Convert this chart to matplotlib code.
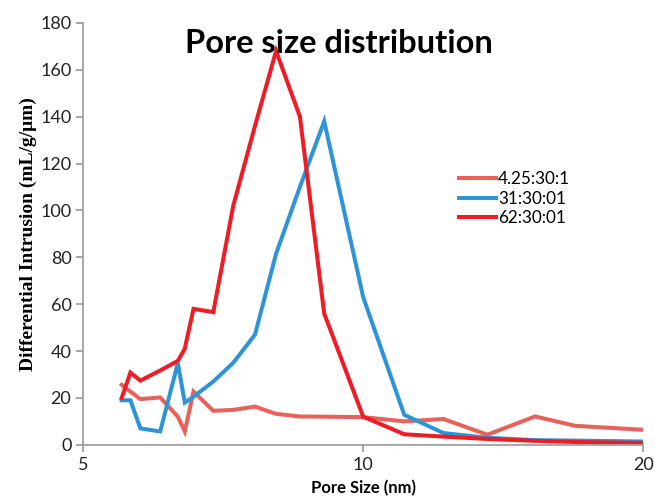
import matplotlib
matplotlib.use("Agg")
import matplotlib.pyplot as plt
from matplotlib.ticker import FixedLocator, NullLocator

pore_size = [5.5, 5.62, 5.76, 6.05, 6.32, 6.43, 6.57, 6.90, 7.25, 7.65,
             8.06, 8.55, 9.08, 10.0, 11.07, 12.2, 13.6, 15.3, 16.9, 20.0]

s_425 = [25.6, 22.7, 19.5, 20.2, 12.0, 5.7, 22.7, 14.5, 14.9, 16.3,
         13.2, 12.1, 12.0, 11.8, 10.0, 11.0, 4.3, 12.1, 8.1, 6.4]
s_31 = [19.0, 19.0, 7.0, 5.7, 34.8, 18.0, 20.5, 27.0, 35.0, 47.0,
        81.5, 110.0, 138.0, 63.0, 12.8, 5.0, 3.0, 2.0, 1.8, 1.4]
s_62 = [20.0, 30.8, 27.4, 31.7, 35.8, 41.0, 58.0, 56.6, 102.0, 136.0,
        168.0, 140.0, 56.0, 12.0, 4.5, 3.5, 2.5, 1.7, 1.2, 0.8]

labels = ["4.25:30:1", "31:30:01", "62:30:01"]
colors = ["#e9615b", "#2e94d6", "#ee1c25"]

fig = plt.figure(figsize=(6.55, 4.97), dpi=100)
ax = fig.add_axes([0.127, 0.105, 0.855, 0.849])

for ys, lab, c in zip([s_425, s_31, s_62], labels, colors):
    ax.plot(pore_size, ys, color=c, lw=2.9, label=lab, solid_joinstyle="miter")

ax.set_xscale("log")
ax.set_xlim(5, 20)
ax.set_ylim(0, 180)
ax.xaxis.set_major_locator(FixedLocator([5, 10, 20]))
ax.xaxis.set_minor_locator(NullLocator())
ax.set_xticklabels(["5", "10", "20"])
ax.set_yticks(range(0, 181, 20))

for s in ["top", "right"]:
    ax.spines[s].set_visible(False)
for s in ["left", "bottom"]:
    ax.spines[s].set_color("#a0a0a0")
    ax.spines[s].set_linewidth(1.3)
ax.tick_params(colors="#a0a0a0", labelcolor="#222222", labelsize=13,
               width=1.3, length=5, direction="out")
for t in ax.get_xticklabels() + ax.get_yticklabels():
    t.set_family("Lato")

ax.set_ylabel("Differential Intrusion (mL/g/\u03bcm)", family="Liberation Serif",
              fontweight="bold", fontsize=14, labelpad=2)
ax.set_xlabel("Pore Size (nm)", family="Lato", fontweight="bold", fontsize=12,
              labelpad=5)
ax.text(0.457, 0.95, "Pore size distribution", transform=ax.transAxes,
        ha="center", va="center", family="Lato", fontweight="bold", fontsize=23.5)

leg = ax.legend(loc="upper left", bbox_to_anchor=(0.643, 0.685), frameon=False,
                prop={"family": "Lato", "size": 12.3}, handlelength=2.2,
                handletextpad=0.1, labelspacing=0.2)

fig.savefig("out.png", dpi=100)
plt.close()
